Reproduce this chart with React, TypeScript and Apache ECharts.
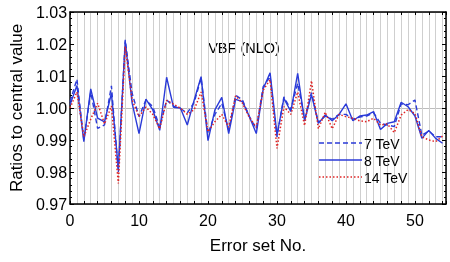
import React, { useEffect, useRef } from "react";
import * as echarts from "echarts";

const seriesNames = ["7 TeV", "8 TeV", "14 TeV"];

const tev7 = [
  1.002, 1.009, 0.99, 1.005, 0.9936, 0.9947, 1.0069, 0.98, 1.0213, 1.0046,
  0.9973, 1.0025, 1.0004, 0.994, 1.0025, 1.0006, 0.9998, 0.9985, 1.0018, 1.0093,
  0.992, 0.998, 1.0015, 0.993, 1.004, 1.0025, 0.9973, 0.9935, 1.0067, 1.0098,
  0.991, 1.0035, 0.9995, 1.0077, 0.9968, 1.0048, 0.9955, 0.9975, 0.9965, 0.998,
  0.998, 0.9965, 0.9972, 0.9975, 0.9985, 0.9952, 0.9947, 0.9942, 1.0013, 1.001,
  1.0025, 0.9915, 0.9928, 0.991, 0.991,
];

const tev8 = [
  1.001, 1.007, 0.9895, 1.006, 0.9968, 0.9957, 1.0046, 0.981, 1.0208, 1.0015,
  0.992, 1.0028, 0.9994, 0.993, 1.0096, 1.0002, 1.0, 0.9947, 1.0025, 1.0098,
  0.9898, 0.9994, 1.0033, 0.992, 1.0027, 1.002, 0.9973, 0.992, 1.006, 1.011,
  0.9916, 1.003, 0.9989, 1.0108, 0.996, 1.0042, 0.9952, 0.9978, 0.996, 0.998,
  1.0013, 0.996, 0.9975, 0.9978, 0.9989, 0.9933, 0.9952, 0.9957, 1.0018, 1.0004,
  0.9975, 0.9905, 0.993, 0.9905, 0.989,
];

const tev14 = [
  1.0, 1.005, 0.991, 0.9965, 1.0015, 0.995, 1.0006, 0.9764, 1.0192, 1.0025,
  0.9973, 1.0003, 0.998, 0.9935, 1.0024, 1.0012, 1.0, 0.998, 0.9995, 1.005,
  0.9926, 0.9957, 0.998, 0.994, 1.0038, 1.0015, 0.997, 0.994, 1.0056, 1.0088,
  0.9874, 1.0004, 0.998, 1.005, 0.9945, 1.0085, 0.9935, 0.9987, 0.9935, 0.998,
  0.9973, 0.9968, 0.996, 0.9957, 0.9968, 0.9947, 0.995, 0.9923, 0.9978, 0.9995,
  0.9983, 0.991, 0.99, 0.9895, 0.9912,
];

const yTickLabels = ["0.97", "0.98", "0.99", "1.00", "1.01", "1.02", "1.03"];
const xTickLabels = ["0", "10", "20", "30", "40", "50"];

const BLUE = "#2a3ad8";
const RED = "#e02424";
const FONT = "'Liberation Sans', Arial, Helvetica, sans-serif";

const lineStyles = [
  { color: BLUE, width: 1.4, dash: [5, 3] as number[] | null },
  { color: BLUE, width: 1.4, dash: null as number[] | null },
  { color: RED, width: 1.5, dash: [1.5, 2] as number[] | null },
];

export default function App() {
  const ref = useRef<HTMLDivElement>(null);

  useEffect(() => {
    if (!ref.current) return;
    const chart = echarts.init(ref.current, undefined, { renderer: "svg" });
    const toPairs = (arr: number[]) => arr.map((v, i) => [i, v]);
    const frame = { show: true, onZero: false, lineStyle: { color: "#000", width: 1.5 } };

    const legendGraphics: any[] = [];
    seriesNames.forEach((name, i) => {
      const y = 143 + i * 17;
      const ls = lineStyles[i];
      legendGraphics.push({
        type: "line",
        shape: { x1: 319, y1: y, x2: 362, y2: y },
        style: { stroke: ls.color, lineWidth: ls.width, lineDash: ls.dash || undefined },
        z: 10,
      });
      legendGraphics.push({
        type: "text",
        x: 364,
        y: y + 0.5,
        style: {
          text: name,
          fontSize: 14,
          fontFamily: FONT,
          fill: "#000",
          textAlign: "left",
          textVerticalAlign: "middle",
        },
        z: 10,
      });
    });

    chart.setOption({
      animation: false,
      textStyle: { fontFamily: FONT },
      grid: { left: 66, right: 4, top: 12, bottom: 58, containLabel: false },
      graphic: [
        {
          type: "text",
          x: 244,
          y: 48,
          style: {
            text: "VBF (NLO)",
            fontSize: 14.5,
            fontFamily: FONT,
            fill: "#000",
            textAlign: "center",
            textVerticalAlign: "middle",
          },
        },
        ...legendGraphics,
      ],
      xAxis: [
        {
          type: "value",
          position: "bottom",
          min: 0,
          max: 54.5,
          interval: 2,
          axisLine: frame,
          axisTick: { show: true, inside: true, length: 3, lineStyle: { color: "#000", width: 1 } },
          axisLabel: {
            fontSize: 16,
            color: "#000",
            margin: 8,
            fontFamily: FONT,
            formatter: (v: number) => {
              const s = String(Math.round(v));
              return Math.abs(v % 10) < 1e-6 && xTickLabels.includes(s) ? s : "";
            },
          },
          splitLine: { show: false },
          name: "Error set No.",
          nameLocation: "middle",
          nameGap: 33,
          nameTextStyle: { fontSize: 17, color: "#000", fontFamily: FONT },
        },
        {
          type: "value",
          position: "top",
          min: 0,
          max: 54.5,
          interval: 2,
          axisLine: frame,
          axisTick: { show: true, inside: true, length: 3, lineStyle: { color: "#000", width: 1 } },
          axisLabel: { show: false },
          splitLine: { show: false },
        },
        {
          type: "value",
          position: "bottom",
          min: 0,
          max: 54.5,
          interval: 1,
          axisLine: { show: false },
          axisTick: { show: false },
          axisLabel: { show: false },
          splitLine: { show: true, lineStyle: { color: "#cfcfcf", width: 1 } },
        },
      ],
      yAxis: [
        {
          type: "value",
          position: "left",
          min: 0.97,
          max: 1.03,
          interval: 0.01,
          axisLine: frame,
          axisTick: { show: true, inside: true, length: 4, lineStyle: { color: "#000", width: 1 } },
          minorTick: { show: true, splitNumber: 5, length: 2, lineStyle: { color: "#000", width: 1 } },
          axisLabel: {
            fontSize: 16,
            color: "#000",
            margin: 3,
            fontFamily: FONT,
            formatter: (v: number) => {
              const s = v.toFixed(2);
              return yTickLabels.includes(s) ? s : "";
            },
          },
          splitLine: { show: false },
          name: "Ratios to central value",
          nameLocation: "middle",
          nameGap: 41,
          nameTextStyle: { fontSize: 17, color: "#000", fontFamily: FONT },
        },
        {
          type: "value",
          position: "right",
          min: 0.97,
          max: 1.03,
          interval: 0.01,
          axisLine: frame,
          axisTick: { show: true, inside: true, length: 4, lineStyle: { color: "#000", width: 1 } },
          minorTick: { show: true, splitNumber: 5, length: 2, lineStyle: { color: "#000", width: 1 } },
          axisLabel: { show: false },
          splitLine: { show: false },
        },
        {
          type: "value",
          position: "left",
          min: 0.97,
          max: 1.03,
          interval: 0.03,
          axisLine: { show: false },
          axisTick: { show: false },
          axisLabel: { show: false },
          splitLine: { show: true, lineStyle: { color: "#bdbdbd", width: 1 } },
        },
      ],
      series: seriesNames.map((name, i) => ({
        name,
        type: "line",
        data: toPairs([tev7, tev8, tev14][i]),
        showSymbol: false,
        symbol: "none",
        color: lineStyles[i].color,
        lineStyle: {
          color: lineStyles[i].color,
          width: lineStyles[i].width,
          type: lineStyles[i].dash || "solid",
        },
        z: 3 + i,
      })),
    });
    return () => chart.dispose();
  }, []);

  return (
    <div
      ref={ref}
      style={{ position: "fixed", left: 0, top: 0, width: 450, height: 262 }}
    />
  );
}
